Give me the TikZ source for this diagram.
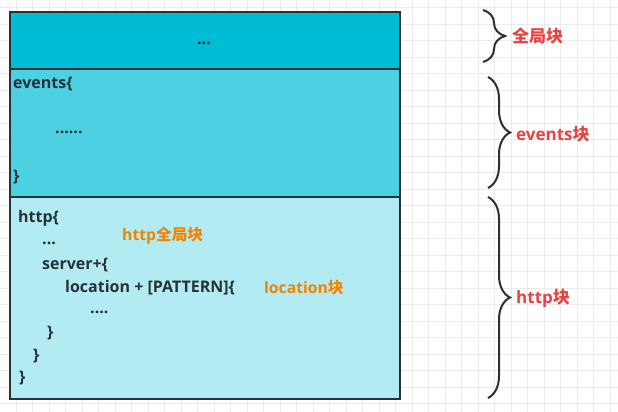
\documentclass[tikz,border=0pt]{standalone}
\usepackage{fontspec}
\setmainfont{Open Sans}
\newfontfamily\cjk{Noto Sans CJK SC}
\usetikzlibrary{decorations.pathreplacing}

\definecolor{topcyan}{HTML}{00BCD4}
\definecolor{midcyan}{HTML}{4DD0E1}
\definecolor{lowcyan}{HTML}{B2EBF2}
\definecolor{codeink}{HTML}{263238}
\definecolor{tagred}{HTML}{EE4040}
\definecolor{noteorange}{HTML}{F08300}
\definecolor{gridgray}{HTML}{EBEBEB}

\begin{document}
\begin{tikzpicture}[x=1pt,y=-1pt,
    blockbox/.style={draw=codeink, line width=1.6pt, anchor=north west, inner sep=0pt, minimum width=390pt},
    code/.style={text=codeink, font=\bfseries\fontsize{16}{18}\selectfont, anchor=west, inner sep=0pt},
    note/.style={text=noteorange, font=\bfseries\fontsize{15.7}{18}\selectfont, anchor=west, inner sep=0pt},
    tag/.style={text=tagred, font=\bfseries\fontsize{17}{19}\selectfont, anchor=west, inner sep=0pt},
    bracket/.style={decorate, decoration={brace, amplitude=22pt}, line width=2pt, draw=codeink}]
    \useasboundingbox (0,0) rectangle (618,412);
    % Background grid
    \foreach \gx in {0,...,37}
        \draw[gridgray, line width=0.8pt] ({-0.5+16.5*\gx},0) -- ({-0.5+16.5*\gx},412);
    \foreach \gy in {0,...,24}
        \draw[gridgray, line width=0.8pt] (0,{7.5+16.5*\gy}) -- (618,{7.5+16.5*\gy});

    % Draw the three blocks
    \node[blockbox, fill=topcyan, minimum height=57pt] (glob) at (9,11) {};
    \node[blockbox, fill=midcyan, minimum height=128pt] (events) at (9,68) {};
    \node[blockbox, fill=lowcyan, minimum height=202pt] (http) at (9,196) {};

    % Code lines
    \node[code, anchor=center] (globdots) at (204,43) {...};
    \node[code] (evopen) at (13,84) {events\{};
    \node[code] (evdots) at (55,132) {......};
    \node[code] (evclose) at (13,177) {\}};
    \node[code] (httpopen) at (18,218) {http\{};
    \node[code] (httpdots) at (42,243) {...};
    \node[code] (srvopen) at (42,265) {server+\{};
    \node[code] (locopen) at (65,288) {location + [PATTERN]\{};
    \node[code] (locdots) at (90,312) {....};
    \node[code] (locclose) at (47,333) {\}};
    \node[code] (srvclose) at (33,356) {\}};
    \node[code] (httpclose) at (19,378) {\}};

    % Notes inside the http block
    \node[note] (httpnote) at (122,236) {http{\cjk 全局块}};
    \node[note] (locnote) at (264,288) {location{\cjk 块}};

    % Braces and their labels
    \draw[bracket] (483,10) -- (483,62);
    \draw[bracket] (488,77) -- (488,188);
    \draw[bracket] (488,197) -- (488,398);
    \node[tag] (globtag) at (512,36) {\cjk 全局块};
    \node[tag] (evtag) at (516,134) {events{\cjk 块}};
    \node[tag] (httptag) at (516,298) {http{\cjk 块}};

\end{tikzpicture}
\end{document}
